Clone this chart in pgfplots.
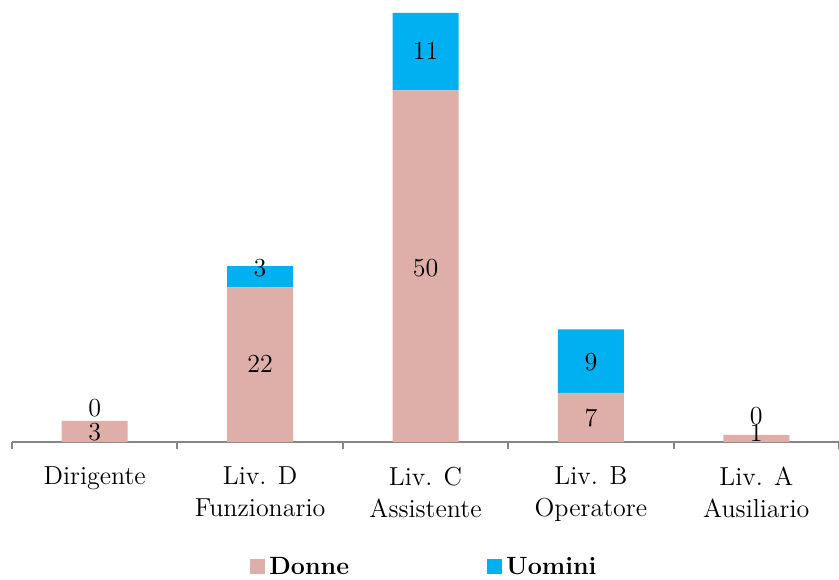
\documentclass[border=0pt]{standalone}
\usepackage{pgfplots}
\pgfplotsset{compat=1.18}
\definecolor{donne}{RGB}{222,174,169}
\definecolor{uomini}{RGB}{0,176,240}
\definecolor{axgray}{RGB}{134,134,134}
\begin{document}
\begin{tikzpicture}
\useasboundingbox (0,0) rectangle (419.5pt,289.5pt);
\begin{axis}[
  at={(6pt,68.5pt)}, anchor=south west,
  x=82.7pt, y=3.5165pt,
  xmin=-0.5, xmax=4.5, ymin=0, ymax=62.85,
  ybar stacked, bar width=33pt,
  axis x line*=bottom, axis y line=none,
  x axis line style={axgray, line width=1pt},
  xtick={0,1,2,3,4},
  xticklabels={Dirigente,{Liv. D\\Funzionario},{Liv. C\\Assistente},{Liv. B\\Operatore},{Liv. A\\Ausiliario}},
  xtick style={draw=none},
  extra x ticks={-0.5,0.5,1.5,2.5,3.5,4.5},
  extra x tick labels={},
  extra x tick style={xtick style={draw=axgray, line width=1pt}, major tick length=3.5pt, tick align=outside},
  xticklabel style={align=center, font=\fontsize{13}{16}\selectfont, yshift=-9pt},
  clip=false,
  legend columns=2,
  legend style={draw=none, at={(0.5,-0.283)}, anchor=center, font=\fontsize{12.5}{15}\selectfont\bfseries,
     /tikz/every even column/.append style={column sep=67pt}},
  legend image code/.code={\fill[#1] (0pt,-3.2pt) rectangle (7.5pt,4.3pt);},
]
\addplot[fill=donne, draw=none] coordinates {(0,3) (1,22) (2,50) (3,7) (4,1)};
\addlegendentry{Donne}
\addplot[fill=uomini, draw=none] coordinates {(0,0) (1,3) (2,11) (3,9) (4,0)};
\addlegendentry{Uomini}
\end{axis}
\begin{axis}[
  at={(6pt,68.5pt)}, anchor=south west,
  x=82.7pt, y=3.5165pt,
  xmin=-0.5, xmax=4.5, ymin=0, ymax=62.85,
  hide axis, clip=false,
  nodes near coords, point meta=explicit symbolic,
  every node near coord/.append style={anchor=center, font=\fontsize{13}{15}\selectfont, text=black},
]
\addplot[only marks, mark=none] coordinates {(0,1.35) [3] (1,11.1) [22] (2,24.7) [50] (3,3.4) [7] (4,1.28) [1]};
\addplot[only marks, mark=none] coordinates {(0,4.83) [0] (1,24.7) [3] (2,55.6) [11] (3,11.4) [9] (4,3.7) [0]};
\end{axis}
\end{tikzpicture}
\end{document}
